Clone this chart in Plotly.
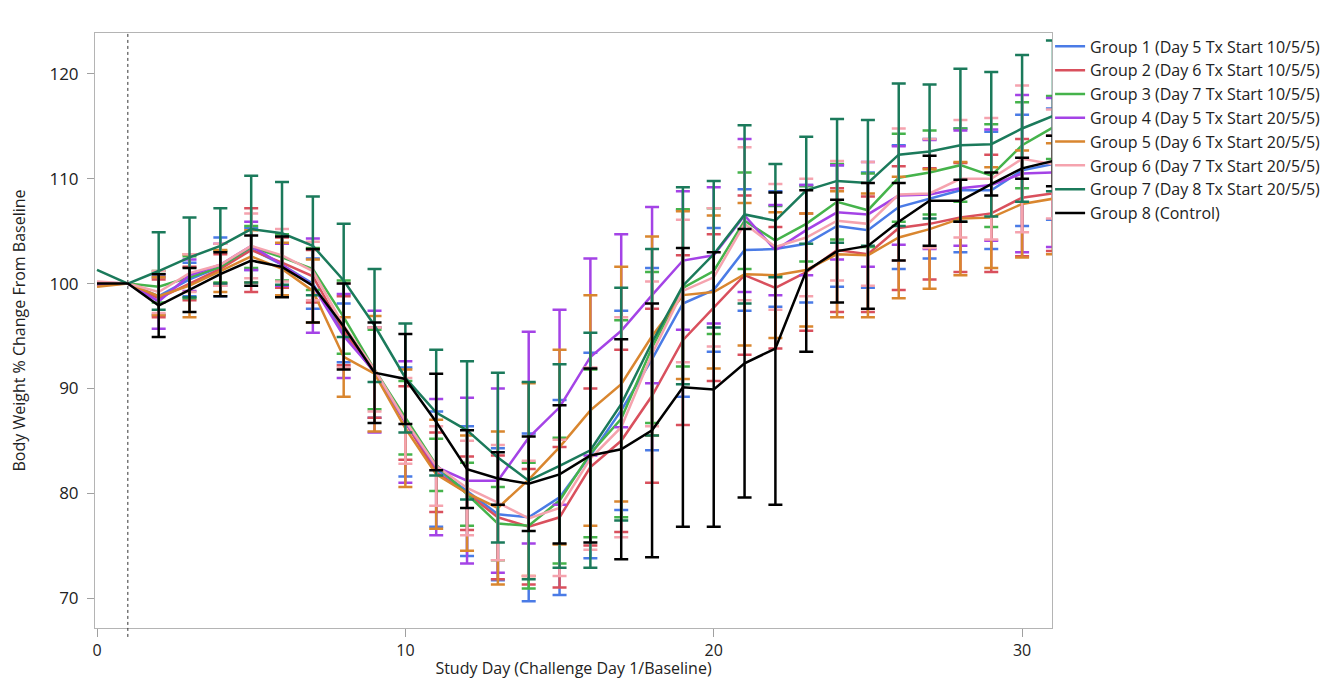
import plotly.graph_objects as go

days = list(range(0, 32))
err_days = days[2:]

group_names = [
    "Group 1 (Day 5 Tx Start 10/5/5)",
    "Group 2 (Day 6 Tx Start 10/5/5)",
    "Group 3 (Day 7 Tx Start 10/5/5)",
    "Group 4 (Day 5 Tx Start 20/5/5)",
    "Group 5 (Day 6 Tx Start 20/5/5)",
    "Group 6 (Day 7 Tx Start 20/5/5)",
    "Group 7 (Day 8 Tx Start 20/5/5)",
    "Group 8 (Control)",
]
colors = ["#4a7be6", "#d9505d", "#45b34b", "#a443e6", "#d9862f", "#f5a3ae", "#1b7a5b", "#000000"]

# mean % of baseline, days 0..31
g1_mean = [100.1, 100, 98.8, 100.4, 101.6, 103.3, 101.8, 100.0, 95.3, 91.5, 86.8, 82.3, 80.2, 78.0, 77.7, 79.6,
           83.6, 87.9, 92.8, 98.1, 99.4, 103.2, 103.3, 103.8, 105.5, 105.1, 107.3, 108.1, 108.9, 108.9, 110.8, 111.4]
g2_mean = [99.9, 100, 98.6, 100.0, 101.4, 103.2, 102.0, 100.7, 95.5, 91.5, 86.7, 82.0, 80.0, 77.7, 76.8, 77.7,
           82.5, 85.0, 89.3, 94.6, 97.7, 100.8, 99.6, 101.1, 103.2, 102.8, 105.3, 105.7, 106.3, 106.7, 108.2, 108.6]
g3_mean = [100.0, 100, 99.7, 100.6, 101.6, 103.5, 102.5, 101.4, 96.8, 91.8, 87.2, 82.7, 79.9, 77.1, 76.9, 79.3,
           83.8, 87.1, 93.9, 99.6, 101.2, 106.0, 104.1, 105.7, 107.8, 107.0, 110.1, 110.6, 111.3, 110.3, 113.2, 114.9]
g4_mean = [99.9, 100, 98.3, 100.8, 101.8, 103.6, 101.8, 99.8, 95.0, 91.6, 86.8, 82.5, 81.2, 81.2, 85.3, 88.2,
           93.0, 95.5, 98.9, 102.2, 102.7, 106.5, 103.2, 105.1, 106.8, 106.6, 108.4, 108.5, 109.1, 109.4, 110.5, 110.6]
g5_mean = [99.7, 100, 98.8, 99.8, 101.2, 102.6, 101.4, 99.3, 93.0, 91.4, 86.2, 81.8, 80.0, 78.6, 81.3, 84.4,
           87.9, 90.4, 95.0, 98.9, 99.2, 100.9, 100.8, 101.3, 102.8, 102.7, 104.4, 105.2, 106.2, 106.3, 107.6, 108.1]
g6_mean = [100.2, 100, 99.2, 101.0, 101.8, 103.6, 102.7, 101.2, 96.0, 91.8, 86.9, 82.6, 80.5, 79.1, 77.6, 78.6,
           83.3, 86.3, 93.3, 99.3, 100.6, 105.7, 103.5, 104.4, 106.0, 105.7, 108.5, 108.6, 110.0, 110.0, 111.9, 111.4]
g7_mean = [101.3, 100, 101.2, 102.5, 103.6, 105.2, 104.8, 103.6, 100.3, 96.0, 91.0, 87.7, 86.0, 83.4, 81.2, 82.6,
           84.1, 88.5, 94.4, 99.8, 102.8, 106.6, 106.0, 108.9, 109.8, 109.6, 112.3, 112.6, 113.2, 113.3, 114.8, 116.0]
g8_mean = [100.0, 100, 97.9, 99.4, 100.9, 102.2, 101.6, 99.8, 95.9, 91.5, 90.9, 86.8, 82.3, 81.4, 80.9, 81.8,
           83.6, 84.2, 86.0, 90.1, 89.9, 92.4, 93.8, 101.2, 103.1, 103.6, 105.9, 107.9, 107.9, 109.5, 111.0, 111.7]

# error bar half-widths, days 2..31
g1_err = [1.8, 1.6, 2.8, 2.0, 2.0, 2.4, 2.8, 4.3, 5.2, 5.5, 6.2, 6.3, 8.0, 9.3, 9.8, 9.5,
          8.7, 8.9, 5.9, 5.8, 5.5, 5.6, 5.8, 5.5, 5.9, 5.7, 5.9, 5.6, 5.3, 5.3]
g2_err = [1.8, 1.6, 1.4, 4.0, 2.4, 2.5, 3.3, 4.3, 3.5, 3.8, 3.5, 5.9, 5.5, 6.7, 7.5, 8.7,
          8.3, 8.1, 7.0, 7.6, 5.8, 5.6, 5.9, 5.5, 5.9, 5.3, 5.2, 5.6, 5.6, 5.5]
g3_err = [1.5, 2.0, 1.5, 2.0, 2.2, 2.0, 3.5, 3.8, 3.5, 2.5, 3.0, 3.5, 6.0, 6.0, 8.0, 9.4,
          7.2, 7.5, 6.0, 4.6, 3.3, 3.6, 3.6, 3.5, 4.2, 4.0, 3.5, 4.9, 4.1, 3.0]
g4_err = [2.6, 1.5, 2.0, 2.3, 2.0, 4.5, 4.0, 5.8, 5.8, 6.5, 7.9, 8.8, 10.1, 9.3, 9.4, 9.2,
          8.4, 6.6, 6.5, 7.3, 4.3, 4.3, 4.5, 5.0, 4.7, 5.2, 5.5, 5.3, 7.5, 7.1]
g5_err = [1.8, 3.0, 2.0, 2.5, 2.5, 3.0, 3.8, 5.5, 5.6, 5.2, 5.5, 7.3, 9.2, 9.3, 11.0, 11.2,
          9.5, 8.0, 7.3, 6.8, 6.0, 5.4, 6.0, 5.9, 5.8, 5.7, 5.4, 4.8, 5.1, 5.3]
g6_err = [2.0, 1.8, 2.0, 3.1, 2.5, 2.8, 4.0, 4.0, 4.1, 3.8, 4.5, 5.5, 5.5, 6.5, 8.7, 10.5,
          6.9, 6.8, 6.6, 7.3, 6.0, 5.6, 5.7, 5.9, 6.3, 5.2, 5.6, 5.8, 7.0, 5.2]
g7_err = [3.7, 3.8, 3.6, 5.1, 4.9, 4.7, 5.4, 5.4, 5.2, 6.0, 6.6, 8.1, 9.4, 9.7, 11.2, 11.1,
          8.9, 9.4, 7.0, 8.5, 5.4, 5.1, 5.9, 6.0, 6.8, 6.4, 7.3, 6.9, 7.0, 7.2]
g8_err = [3.0, 2.1, 2.1, 2.4, 2.9, 3.5, 4.1, 4.8, 4.3, 4.6, 3.7, 2.5, 4.5, 6.6, 8.3, 10.5,
          12.1, 13.3, 13.1, 12.8, 14.9, 7.7, 4.9, 6.0, 3.7, 4.3, 2.0, 1.1, 1.0, 2.4]

means = [g1_mean, g2_mean, g3_mean, g4_mean, g5_mean, g6_mean, g7_mean, g8_mean]
errs = [g1_err, g2_err, g3_err, g4_err, g5_err, g6_err, g7_err, g8_err]

y_ticks = [70, 80, 90, 100, 110, 120]
x_ticks = [0, 10, 20, 30]

FONT = "Open Sans"
TXT = "#222222"
fig = go.Figure()
for name, col, m, e in zip(group_names, colors, means, errs):
    fig.add_trace(go.Scatter(
        x=days, y=m, mode="lines", name=name,
        line=dict(color=col, width=2.5), legendgroup=name,
    ))
    fig.add_trace(go.Scatter(
        x=err_days, y=m[2:], mode="markers", showlegend=False, legendgroup=name,
        marker=dict(size=2, opacity=0, color=col), hoverinfo="skip",
        error_y=dict(type="data", array=e, symmetric=True, color=col, thickness=2.5, width=7),
    ))

fig.add_shape(type="line", xref="x", yref="paper", x0=1, x1=1, y0=-0.015, y1=1,
              line=dict(color="#333333", width=1, dash="dot"))

fig.update_layout(
    width=1325, height=679,
    margin=dict(l=95, r=273, t=33, b=51, autoexpand=False),
    paper_bgcolor="white", plot_bgcolor="white",
    font=dict(family=FONT, size=16, color=TXT),
    showlegend=True,
    legend=dict(x=0.998, xanchor="left", y=1.006, yanchor="top",
                font=dict(family=FONT, size=16, color=TXT),
                bgcolor="rgba(0,0,0,0)", tracegroupgap=0),
    xaxis=dict(range=[-0.065, 30.97], tickvals=x_ticks, showgrid=False, zeroline=False,
               showline=True, linecolor="#b4b4b4", linewidth=1, mirror=True, automargin=False,
               ticks="outside", ticklen=8, tickcolor="#a0a0a0", ticklabelstandoff=0,
               title=dict(text="Study Day (Challenge Day 1/Baseline)", standoff=10,
                          font=dict(family=FONT, size=16, color=TXT)),
               tickfont=dict(family=FONT, size=16, color=TXT)),
    yaxis=dict(range=[67.14, 123.91], tickvals=y_ticks, ticksuffix="%", showgrid=False, zeroline=False,
               showline=True, linecolor="#b4b4b4", linewidth=1, mirror=True, automargin=False,
               ticks="outside", ticklen=7, tickcolor="#a0a0a0", ticklabelstandoff=5,
               title=dict(text="Body Weight % Change From Baseline", standoff=19,
                          font=dict(family=FONT, size=16, color=TXT)),
               tickfont=dict(family=FONT, size=17, color=TXT)),
)

fig.write_html("out.html")
